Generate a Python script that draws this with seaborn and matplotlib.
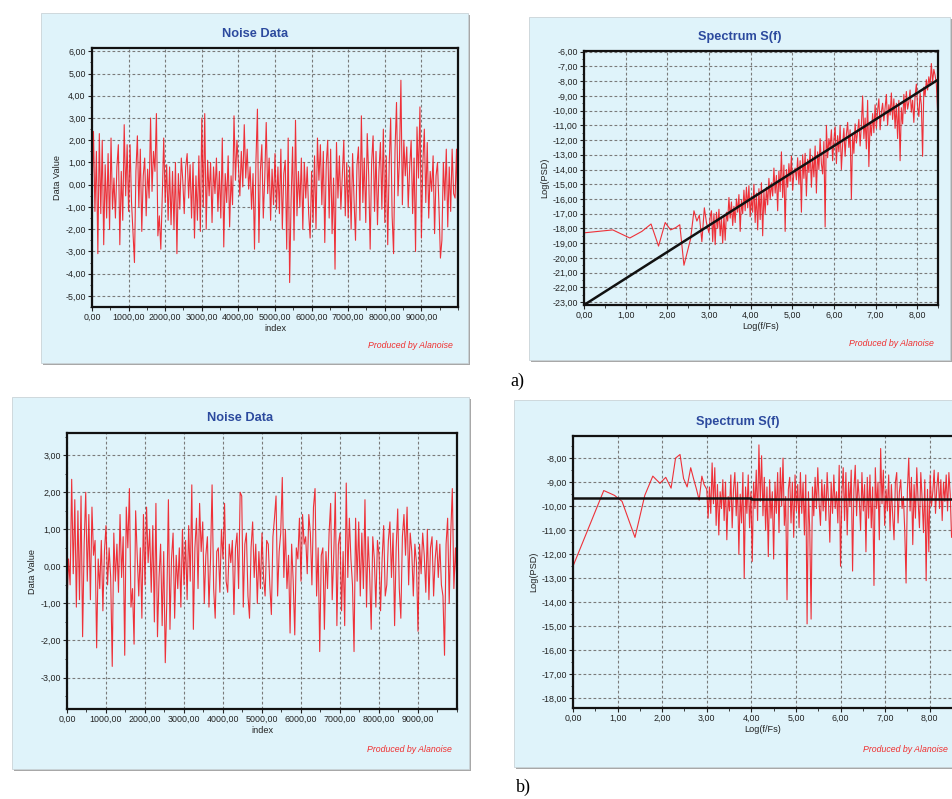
import numpy as np
import pandas as pd
import matplotlib
matplotlib.use("Agg")
import matplotlib.pyplot as plt
from matplotlib.patches import Rectangle
from matplotlib.ticker import FuncFormatter, MultipleLocator
import seaborn as sns

sns.set_style("white")
plt.rcParams['font.family'] = ['Liberation Sans', 'DejaVu Sans']

# ---------------- data ----------------
noise_a = [
    -0.5, 2.4, -1.2, 1.5, -3.1, 2.3, -1.3, 2.0, -2.7, 0.9, -1.5, 1.4, -2.0, 2.1, -1.1, 0.3, -1.5, 0.8, 1.8, -2.7, 0.6, -1.6, 2.7, -0.5, 1.8,
    -1.2, 1.8, -0.8, -2.2, -3.5, 0.6, 2.2, -1.0, 1.6, -2.1, 0.4, 1.2, -1.4, 0.7, -0.6, 3.0, -0.3, 1.5, 0.6, 3.2, -2.3, -1.4, -2.9, -0.5, 2.1,
    -0.8, 0.9, -1.6, 0.8, -1.8, 0.6, -2.0, 1.0, -3.1, 0.5, -1.1, 1.2, 0.2, -1.3, 0.8, 1.4, -0.6, 0.9, -1.5, 1.0, -2.4, 0.4, -1.6, 1.3, -2.1,
    3.0, -1.0, 3.2, -2.0, 1.1, -0.5, 1.0, -1.7, 0.8, -0.4, 1.2, -1.2, 0.6, -1.5, 2.1, -2.8, 0.5, -0.8, 1.3, -1.9, 0.4, -0.9, 3.1, 0.2, 2.0,
    0.9, -0.5, 1.5, -0.1, 2.7, 0.3, 1.6, -0.2, 0.8, -1.1, 0.5, -2.9, 1.1, 3.4, -2.6, 0.6, 1.8, -1.5, 0.3, 2.8, -0.4, 1.2, -1.6, 0.7, -0.9,
    1.4, -1.1, 0.8, -1.3, 1.6, -2.0, 0.5, 1.1, -2.9, 2.1, -4.4, -0.7, 1.7, -2.5, 2.9, -1.4, 0.6, -1.0, 1.2, -2.0, 1.0, -0.6, 0.8, -1.3, -2.4,
    0.6, -1.7, 1.3, -2.0, 2.1, 0.2, 1.8, -0.9, 1.5, -2.6, 0.9, 2.0, -1.5, 1.6, -2.2, 0.3, -3.8, 1.9, -0.6, 1.3, -1.1, 0.4, 2.0, -1.4, 1.0,
    -1.5, 0.8, -2.0, 1.4, -0.7, -2.5, 0.9, 1.7, -1.6, 3.1, -0.8, 1.2, -1.7, 2.3, 0.4, -2.9, 1.0, 2.2, -1.2, 1.5, -1.8, 0.6, 1.9, -1.1, 2.5,
    -1.7, 1.3, -2.7, 0.9, 3.0, -1.4, -3.1, 1.6, 3.7, -0.5, 1.1, 4.7, -0.9, 2.0, 0.4, 1.7, -1.0, 0.8, 2.0, -1.3, 1.2, -3.0, 2.6, 0.3, 3.5,
    -2.4, 1.0, 2.5, -0.8, 1.9, -1.5, 0.6, -0.3, 1.3, -2.2, 0.4, 1.0, -1.0, -3.3, -2.5, 1.0, -0.7, 1.6, -1.9, 0.8, -1.2, 1.6, -0.4, -0.6, 1.6, -2.1,
]

noise_b = [
    -1.0, 0.2, -0.5, 2.35, -0.2, 1.8, -1.1, 1.5, -0.9, 1.9, -1.9, 0.6, 2.0, -0.4, 1.4, -0.9, 1.6, 0.3, 0.7, -2.2, 0.2, -0.6, 0.7, -1.2, 0.4,
    1.1, -0.5, 0.5, -0.3, -2.7, 0.9, -0.4, 0.6, -0.7, 1.4, -0.3, 0.8, -2.4, 1.6, 0.5, 2.1, -1.1, -0.6, -2.1, 1.5, 0.3, -0.8, 0.5, -1.4, 1.4,
    -0.5, 1.6, 0.1, 1.0, -0.7, 1.1, -1.5, 1.7, -1.9, -0.3, 0.6, -1.6, 0.4, -2.6, -0.9, 1.8, -1.7, 0.2, 0.9, -1.4, 0.3, -0.6, 0.5, -1.1, 1.0,
    -0.5, 0.7, -0.9, 1.1, -0.4, 2.2, -1.7, 0.5, 1.3, -0.6, 1.7, 0.4, 1.2, -1.0, 0.3, 0.8, -1.1, 0.2, 2.2, -0.6, -1.4, 0.4, 0.5, -0.7, 1.0,
    0.2, 1.7, -0.4, -0.7, 0.6, 0.1, 0.7, -1.3, 0.5, 0.9, -0.6, 2.0, 1.9, -1.1, 0.6, 0.9, -0.8, -1.4, 0.5, 1.2, -0.3, 0.6, -1.0, 0.4, -0.6,
    0.9, -0.3, -0.8, 0.7, 0.6, -0.5, -1.3, 0.8, 1.3, 1.9, -0.8, 0.4, 0.9, 2.4, -0.3, 1.0, -0.6, 0.3, -1.8, 0.6, -0.4, -1.85, 0.5, 0.2, 1.3,
    -0.4, 1.4, 0.6, 0.8, -0.2, 1.4, 0.9, -0.5, 1.6, 2.1, -0.8, 0.5, -2.3, 0.3, 0.5, -1.7, 0.4, -0.6, 0.9, 1.7, -0.9, 0.3, 2.0, -1.6, 0.6,
    0.9, -1.2, 0.4, -1.6, 2.25, -0.3, 1.3, 0.2, -0.5, -2.3, 1.3, -0.4, 1.2, -0.8, 0.9, -0.6, 1.8, -1.1, 0.8, -0.2, -1.7, 0.8, 0.2, -1.1, 0.7,
    0.3, -1.2, 0.2, 1.1, -0.8, -0.5, 0.7, 1.2, -0.3, 0.9, -1.6, 0.5, 1.55, -0.6, -1.4, 0.8, 1.4, 0.3, 1.6, -0.5, 0.9, 0.4, -0.8, 0.6, 0.1,
    -1.75, 0.6, -0.2, 0.9, 0.3, -0.7, 1.0, -0.9, 0.5, 0.8, -0.8, 0.2, 0.7, -0.3, 0.6, -0.5, -0.8, -2.4, 0.6, 1.3, -1.0, 0.9, 2.1, -0.6, 0.5, -0.5,
]
noise_step = 40  # index spacing of the read-off samples

spec_a_low_x = [0.00, 0.69, 1.10, 1.39, 1.61, 1.79, 1.95, 2.08, 2.20, 2.30, 2.40, 2.48, 2.56, 2.64, 2.71, 2.77, 2.83, 2.89, 2.94, 3.00]
spec_a_low_y = [-18.3, -18.1, -18.65, -18.2, -17.7, -19.2, -17.6, -18.1, -17.95, -17.75, -20.5, -19.6, -18.7, -16.8, -17.5, -17.1, -18.9, -16.6, -17.6, -18.3]
spec_a_high_y = [
    -17.2, -16.8, -18.9, -17.0, -19.1, -16.9, -18.0, -16.7, -18.5, -17.3,
    -19.0, -17.1, -18.8, -16.9, -17.5, -15.9, -17.3, -16.2, -17.8, -16.5,
    -17.6, -16.0, -16.9, -15.7, -18.2, -16.1, -17.0, -15.4, -16.8, -15.2,
    -16.6, -15.1, -17.2, -15.8, -16.9, -15.0, -17.6, -15.6, -18.1, -15.3,
    -17.4, -14.9, -18.5, -15.5, -17.0, -15.2, -16.4, -14.6, -16.0, -14.9,
    -15.8, -13.9, -15.6, -14.4, -16.8, -14.1, -15.5, -12.8, -15.9, -13.7,
    -18.2, -14.0, -15.2, -13.6, -14.8, -13.1, -15.4, -14.2, -13.9, -14.7,
    -13.2, -15.0, -13.4, -16.9, -13.0, -14.6, -12.9, -15.8, -13.3, -14.2,
    -12.6, -15.2, -13.1, -14.5, -12.4, -15.6, -12.8, -14.0, -11.9, -13.6,
    -14.3, -12.1, -17.9, -11.0, -13.2, -11.9, -12.5, -11.3, -13.4, -12.0,
    -11.1, -13.6, -11.7, -12.8, -11.0, -14.0, -12.3, -11.2, -13.1, -11.6,
    -10.8, -12.5, -11.3, -16.0, -11.6, -12.9, -10.9, -12.2, -11.4, -10.6,
    -12.4, -11.0, -9.0, -11.9, -10.5, -12.6, -9.3, -13.8, -10.8, -11.7,
    -10.2, -11.5, -9.6, -11.2, -10.0, -9.2, -11.3, -10.1, -9.5, -10.7,
    -9.8, -8.9, -11.0, -9.6, -10.3, -8.8, -10.6, -9.2, -11.2, -9.5,
    -11.9, -9.3, -13.4, -9.8, -10.9, -8.9, -10.2, -8.7, -9.9, -9.4,
    -8.6, -10.1, -9.3, -10.8, -9.0, -8.2, -9.7, -10.4, -8.8, -9.6,
    -13.1, -8.4, -9.0, -7.9, -8.6, -7.7, -8.3, -6.8, -8.1, -7.2,
    -7.6, -8.2, -10.0,
]
fit_a_x = [0.0, 8.5]
fit_a_y = [-23.2, -7.9]

spec_b_low_x = [0.00, 0.69, 0.93, 1.10, 1.39, 1.61, 1.79, 1.95, 2.08, 2.20, 2.30, 2.40, 2.48, 2.56, 2.64, 2.71, 2.77, 2.83, 2.89, 2.94, 3.00]
spec_b_low_y = [-12.5, -9.35, -9.55, -9.8, -11.3, -9.55, -8.75, -9.05, -8.8, -9.25, -8.0, -7.85, -8.85, -9.2, -8.4, -8.9, -9.3, -9.75, -8.75, -9.1, -9.3]
spec_b_high_y = [
    -10.5, -9.2, -10.3, -8.2, -9.9, -8.4, -10.8, -9.1, -11.2, -9.4,
    -10.1, -8.9, -10.6, -9.0, -11.4, -9.6, -10.2, -8.7, -10.9, -9.3,
    -8.6, -10.4, -9.0, -12.0, -9.5, -10.7, -8.6, -13.0, -9.2, -10.3,
    -8.7, -10.9, -9.4, -12.3, -9.0, -10.1, -8.5, -10.6, -7.45, -9.8,
    -7.9, -10.4, -8.8, -11.0, -9.2, -12.1, -8.9, -10.5, -9.4, -12.2,
    -9.0, -10.3, -8.6, -11.1, -8.4, -10.0, -8.0, -10.8, -9.6, -13.9,
    -9.3, -8.8, -10.7, -9.0, -11.3, -8.7, -10.2, -9.1, -10.9, -8.6,
    -10.3, -9.0, -11.2, -8.7, -14.9, -9.4, -11.0, -14.7, -9.2, -10.4,
    -8.8, -10.1, -8.4, -9.9, -10.8, -8.9, -10.2, -9.1, -10.6, -8.6,
    -9.8, -11.5, -9.0, -10.3, -8.7, -10.1, -9.4, -10.7, -8.3, -12.5,
    -9.5, -8.4, -10.6, -8.6, -11.2, -9.0, -10.0, -8.5, -12.7, -9.3,
    -8.3, -10.4, -8.9, -9.7, -11.0, -8.6, -10.2, -9.1, -11.9, -8.8,
    -10.5, -8.7, -10.9, -9.2, -13.3, -8.4, -10.1, -9.0, -11.4, -7.6,
    -9.9, -8.5, -10.8, -9.3, -10.2, -8.7, -11.0, -9.1, -10.4, -11.4,
    -9.0, -8.6, -10.7, -9.4, -8.9, -10.1, -9.6, -11.0, -13.2, -9.3,
    -8.0, -10.2, -8.8, -11.6, -9.1, -10.5, -8.4, -9.8, -10.9, -8.6,
    -9.7, -11.1, -8.9, -13.1, -9.3, -11.9, -8.7, -10.0, -9.4, -8.5,
    -10.3, -9.2, -8.6, -10.1, -8.9, -10.6, -9.0, -9.8, -8.7, -10.2,
    -8.6, -9.5, -11.3,
]
fit_b_x = [0.0, 4.0, 4.0, 8.5]
fit_b_y = [-9.65, -9.65, -9.7, -9.7]
spec_high_start, spec_high_step = 3.03, 0.03

# ---------------- figure ----------------
W, H = 953, 799
fig = plt.figure(figsize=(W / 100, H / 100), dpi=100)
fig.patch.set_facecolor('white')

BG = '#dff3fa'
RED = '#f01c24'
TITLE_C = '#2c4a9e'


def fx(x):
    return x / W


def fy(y):
    return 1 - y / H


def panel(x0, y0, x1, y1):
    fig.patches.append(Rectangle((fx(x0 + 2), fy(y1 + 2)), fx(x1 - x0), (y1 - y0) / H,
                                 transform=fig.transFigure, facecolor='#a8a8a8', edgecolor='none', zorder=-20))
    fig.patches.append(Rectangle((fx(x0), fy(y1)), fx(x1 - x0), (y1 - y0) / H,
                                 transform=fig.transFigure, facecolor=BG, edgecolor='#c9d3d8', lw=0.6, zorder=-10))


def make_ax(x0, y0, x1, y1):
    ax = fig.add_axes([fx(x0), fy(y1), fx(x1 - x0), (y1 - y0) / H])
    ax.set_facecolor(BG)
    ax.set_zorder(5)
    return ax


comma = FuncFormatter(lambda v, p: f"{v:.2f}".replace('.', ','))


def style(ax, xmaj, ymaj, xlabel, ylabel):
    ax.xaxis.set_major_locator(MultipleLocator(xmaj))
    ax.yaxis.set_major_locator(MultipleLocator(ymaj))
    ax.xaxis.set_minor_locator(MultipleLocator(xmaj / 2))
    ax.yaxis.set_minor_locator(MultipleLocator(ymaj / 2))
    ax.xaxis.set_major_formatter(comma)
    ax.yaxis.set_major_formatter(comma)
    ax.grid(True, which='major', ls=(0, (2.5, 2)), color='#7a7a7a', lw=0.8)
    ax.tick_params(which='major', length=3, width=0.8, labelsize=6.4, colors='#222222', pad=1.5)
    ax.tick_params(which='minor', length=1.8, width=0.6, colors='#222222')
    ax.tick_params(axis='both', which='both', bottom=True, left=True)
    for s in ax.spines.values():
        s.set_color('#111111')
        s.set_linewidth(1.6)
    ax.set_xlabel(xlabel, fontsize=6.6, labelpad=1.5, color='#222222')
    ax.set_ylabel(ylabel, fontsize=6.6, labelpad=2, color='#222222')


def noise_panel(px, vals, ylim, ymaj):
    ax = make_ax(*px)
    df = pd.DataFrame({'index': np.arange(len(vals)) * noise_step, 'value': vals})
    sns.lineplot(data=df, x='index', y='value', ax=ax, color=RED, lw=0.8,
                 estimator=None, sort=False, alpha=0.9)
    ax.set_xlim(0, 10000)
    ax.set_ylim(*ylim)
    style(ax, 1000, ymaj, 'index', 'Data Value')
    ax.set_xticks(np.arange(0, 10000, 1000))
    return ax


def spec_panel(px, low_x, low_y, high_y, fit_x, fit_y, ylim):
    ax = make_ax(*px)
    hx = np.round(spec_high_start + spec_high_step * np.arange(len(high_y)), 2)
    df = pd.DataFrame({'f': list(low_x) + list(hx), 'psd': list(low_y) + list(high_y)})
    sns.lineplot(data=df, x='f', y='psd', ax=ax, color=RED, lw=0.8,
                 estimator=None, sort=False, alpha=0.9)
    sns.lineplot(x=fit_x, y=fit_y, ax=ax, color='#111111', lw=1.8, estimator=None, sort=False)
    ax.set_xlim(0, 8.5)
    ax.set_ylim(*ylim)
    style(ax, 1, 1, 'Log(f/Fs)', 'Log(PSD)')
    ax.set_xticks(np.arange(0, 9, 1))
    return ax


# panels
panel(41, 13, 468, 363)
panel(529, 17, 950, 360)
panel(12, 397, 469, 769)
panel(514, 400, 960, 767)

ax1 = noise_panel((92, 48, 458, 307), noise_a, (-5.5, 6.15), 1)
ax2 = spec_panel((584, 51, 938, 305), spec_a_low_x, spec_a_low_y, spec_a_high_y, fit_a_x, fit_a_y, (-23.2, -5.95))
ax3 = noise_panel((67, 433, 457, 709), noise_b, (-3.85, 3.6), 1)
ax4 = spec_panel((573, 436, 952, 708), spec_b_low_x, spec_b_low_y, spec_b_high_y, fit_b_x, fit_b_y, (-18.4, -7.08))
ax4.spines['right'].set_visible(False)

# titles and captions
for (cx, cy, t) in [(255, 34, 'Noise Data'), (740, 37, 'Spectrum S(f)'),
                    (240, 418, 'Noise Data'), (738, 422, 'Spectrum S(f)')]:
    fig.text(fx(cx), fy(cy), t, ha='center', va='center', fontsize=9.2,
             fontweight='bold', color=TITLE_C)

for (rx, ry) in [(453, 346), (934, 343), (452, 750), (948, 749)]:
    fig.text(fx(rx), fy(ry), 'Produced by Alanoise', ha='right', va='center',
             fontsize=6.3, style='italic', color='#f03030')

fig.text(fx(517), fy(381), 'a)', ha='center', va='center', fontsize=13,
         family='Liberation Serif', color='black')
fig.text(fx(523), fy(787), 'b)', ha='center', va='center', fontsize=13,
         family='Liberation Serif', color='black')

fig.savefig('out.png', dpi=100, facecolor='white')
